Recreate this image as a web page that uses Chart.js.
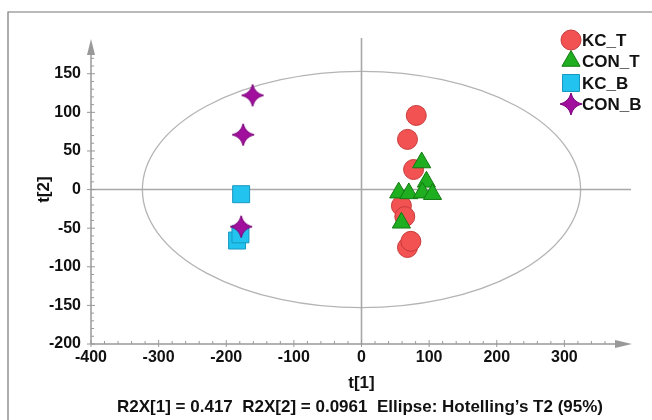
<!DOCTYPE html>
<html>
<head>
<meta charset="utf-8">
<script src="https://cdn.jsdelivr.net/npm/chart.js@4/dist/chart.umd.min.js"></script>
<style>
  html, body { margin: 0; padding: 0; background: #fff; }
  #wrap { width: 652px; height: 420px; position: relative; }
</style>
</head>
<body>
<div id="wrap"><canvas id="c" width="652" height="420"></canvas></div>
<script>
// ---- data ----
const seriesNames = ['KC_T', 'CON_T', 'KC_B', 'CON_B'];
const kcT_x  = [81, 68, 77, 59, 64, 68, 73];
const kcT_y  = [96, 65, 26, -21, -35, -75, -67];
const conT_x = [89, 96, 55, 70, 90, 105, 59];
const conT_y = [35, 10, -4, -5, -4, -6, -43];
const kcB_x  = [-178, -184, -179];
const kcB_y  = [-6, -66, -58];
const conB_x = [-161, -175, -178];
const conB_y = [122, 71, -48];
const xTicks = [-400, -300, -200, -100, 0, 100, 200, 300];
const yTicks = [-200, -150, -100, -50, 0, 50, 100, 150];
const ellipseA = 324, ellipseB = 153;
const xTitle = 't[1]';
const yTitle = 't[2]';
const caption = 'R2X[1] = 0.417  R2X[2] = 0.0961  Ellipse: Hotelling\u2019s T2 (95%)';

const FONT = '"Liberation Sans Narrow", "Liberation Sans", Arial, sans-serif';

function pts(xs, ys) { return xs.map((x, i) => ({ x: x, y: ys[i] })); }

function makeStar(size, fill, stroke) {
  const c = document.createElement('canvas');
  c.width = size; c.height = size;
  const g = c.getContext('2d');
  const m = size / 2, R = size / 2 - 1, r = R * 0.3;
  g.beginPath();
  for (let i = 0; i < 4; i++) {
    const a = i * Math.PI / 2 - Math.PI / 2;
    const px = m + Math.cos(a) * R, py = m + Math.sin(a) * R;
    const a2 = a + Math.PI / 4;
    const qx = m + Math.cos(a2) * r, qy = m + Math.sin(a2) * r;
    if (i === 0) g.moveTo(px, py); else g.lineTo(px, py);
    g.quadraticCurveTo(m + Math.cos(a2) * r * 0.9, m + Math.sin(a2) * r * 0.9,
                       m + Math.cos(a + Math.PI / 2) * R, m + Math.sin(a + Math.PI / 2) * R);
  }
  g.closePath();
  g.fillStyle = fill; g.fill();
  g.strokeStyle = stroke; g.lineWidth = 1; g.stroke();
  return c;
}
const starImg = makeStar(24, '#a0109c', '#7a0078');

const styles = [
  { style: 'circle',   r: 10, fill: '#f25252', stroke: '#c83a3a' },
  { style: 'triangle', r: 10.5, fill: '#1fae1f', stroke: '#137a13' },
  { style: 'rect',     r: 12, fill: '#22c3ee', stroke: '#1898c0' },
  { style: starImg,    r: 12, fill: '#a0109c', stroke: '#7a0078' }
];

const datasets = [
  pts(kcT_x, kcT_y), pts(conT_x, conT_y), pts(kcB_x, kcB_y), pts(conB_x, conB_y)
].map((d, i) => ({
  label: seriesNames[i],
  data: d,
  order: 3 - i,
  pointStyle: styles[i].style,
  pointRadius: styles[i].r,
  pointHoverRadius: styles[i].r,
  backgroundColor: styles[i].fill,
  borderColor: styles[i].stroke,
  borderWidth: 1
}));

const decor = {
  id: 'decor',
  beforeDatasetsDraw(chart) {
    const ctx = chart.ctx, xs = chart.scales.x, ys = chart.scales.y;
    const ca = chart.chartArea;
    ctx.save();
    // outer frame (top and left)
    ctx.strokeStyle = '#777'; ctx.lineWidth = 1.2;
    ctx.beginPath(); ctx.moveTo(8, 420); ctx.lineTo(8, 12); ctx.lineTo(652, 12); ctx.stroke();

    const x0 = xs.getPixelForValue(0), y0 = ys.getPixelForValue(0);
    // ellipse
    const rx = xs.getPixelForValue(ellipseA) - x0;
    const ry = y0 - ys.getPixelForValue(ellipseB);
    ctx.strokeStyle = '#b4b4b4'; ctx.lineWidth = 1.3;
    ctx.beginPath(); ctx.ellipse(x0, y0, rx, ry, 0, 0, Math.PI * 2); ctx.stroke();
    // zero lines
    ctx.strokeStyle = '#a8a8a8'; ctx.lineWidth = 1.6;
    ctx.beginPath(); ctx.moveTo(x0, ca.top - 1); ctx.lineTo(x0, ca.bottom); ctx.stroke();
    ctx.beginPath(); ctx.moveTo(ca.left, y0); ctx.lineTo(ca.right - 1, y0); ctx.stroke();

    // axes
    const axX = ca.left, axY = ca.bottom;
    ctx.strokeStyle = '#999'; ctx.fillStyle = '#999'; ctx.lineWidth = 1.5;
    ctx.beginPath(); ctx.moveTo(axX, axY); ctx.lineTo(axX, ca.top + 12); ctx.stroke();
    ctx.beginPath(); ctx.moveTo(axX, axY); ctx.lineTo(ca.right - 14, axY); ctx.stroke();
    // arrows
    ctx.beginPath(); ctx.moveTo(axX, ca.top); ctx.lineTo(axX - 4, ca.top + 16); ctx.lineTo(axX + 4, ca.top + 16); ctx.closePath(); ctx.fill();
    ctx.beginPath(); ctx.moveTo(ca.right, axY); ctx.lineTo(ca.right - 17, axY - 4); ctx.lineTo(ca.right - 17, axY + 4); ctx.closePath(); ctx.fill();
    // x minor/major ticks
    ctx.lineWidth = 1;
    for (let v = -400; v <= 380; v += 20) {
      const p = xs.getPixelForValue(v);
      ctx.beginPath();
      if (v % 100 === 0) { ctx.moveTo(p, axY - 4); ctx.lineTo(p, axY + 3); }
      else { ctx.moveTo(p, axY - 3); ctx.lineTo(p, axY); }
      ctx.stroke();
    }
    for (let v = -200; v <= 185; v += 10) {
      const p = ys.getPixelForValue(v);
      ctx.beginPath();
      if (v % 50 === 0) { ctx.moveTo(axX - 4, p); ctx.lineTo(axX + 4, p); }
      else { ctx.moveTo(axX, p); ctx.lineTo(axX + 3, p); }
      ctx.stroke();
    }
    ctx.restore();
  },
  afterDraw(chart) {
    const ctx = chart.ctx, xs = chart.scales.x, ys = chart.scales.y;
    ctx.save();
    ctx.fillStyle = '#111';
    ctx.textAlign = 'center'; ctx.textBaseline = 'middle';
    ctx.font = 'bold 17px ' + FONT;
    ctx.fillText(xTitle, xs.getPixelForValue(0), 383);
    ctx.save();
    ctx.translate(44, ys.getPixelForValue(0));
    ctx.rotate(-Math.PI / 2);
    ctx.fillText(yTitle, 0, 0);
    ctx.restore();
    ctx.font = 'bold 17px ' + FONT;
    ctx.fillText(caption, 360, 407);

    // legend
    const lx = 571, ly = [40, 61, 83, 104];
    datasets.forEach((ds, i) => {
      ctx.fillStyle = ds.backgroundColor; ctx.strokeStyle = ds.borderColor; ctx.lineWidth = 1;
      Chart.helpers.drawPoint(ctx, { pointStyle: ds.pointStyle, radius: ds.pointRadius, borderWidth: 1, rotation: 0 }, lx, ly[i]);
      ctx.fillStyle = '#111';
      ctx.textAlign = 'left';
      ctx.font = 'bold 17px ' + FONT;
      ctx.fillText(ds.label, 582, ly[i] + 1);
    });
    ctx.restore();
  }
};

new Chart(document.getElementById('c'), {
  type: 'scatter',
  data: { datasets: datasets },
  options: {
    responsive: false,
    animation: false,
    devicePixelRatio: 1,
    layout: { padding: { top: 39, right: 20, left: 0, bottom: 0 } },
    plugins: { legend: { display: false }, tooltip: { enabled: false } },
    scales: {
      x: {
        type: 'linear', min: -400, max: 400,
        afterBuildTicks: s => { s.ticks = xTicks.map(v => ({ value: v })); },
        afterFit: s => { s.height = 76; },
        grid: { display: false, drawTicks: false },
        border: { display: false },
        ticks: { color: '#111', padding: 4, maxRotation: 0, autoSkip: false,
                 font: { family: FONT, size: 16, weight: 'bold' } }
      },
      y: {
        type: 'linear', min: -200, max: 195,
        afterBuildTicks: s => { s.ticks = yTicks.map(v => ({ value: v })); },
        afterFit: s => { s.width = 91; },
        grid: { display: false, drawTicks: false },
        border: { display: false },
        ticks: { color: '#111', padding: 10, autoSkip: false,
                 font: { family: FONT, size: 16, weight: 'bold' } }
      }
    }
  },
  plugins: [decor]
});
</script>
</body>
</html>
